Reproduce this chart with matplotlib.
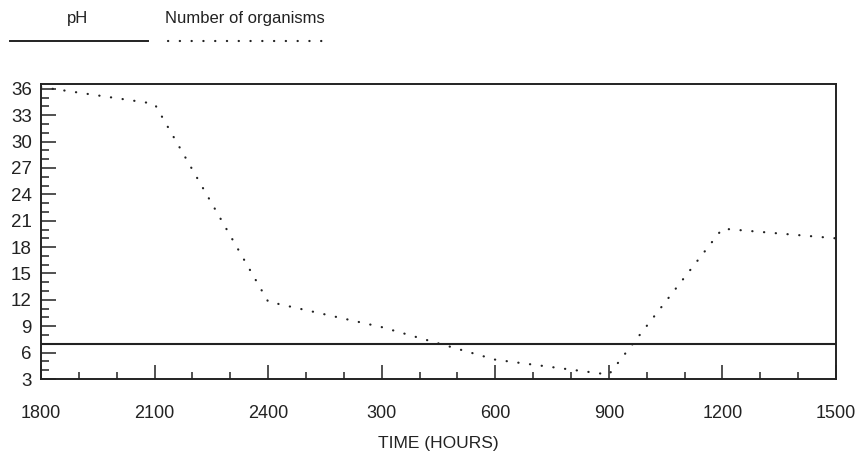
import numpy as np
import matplotlib
matplotlib.use("Agg")
import matplotlib.pyplot as plt
from matplotlib.lines import Line2D
from matplotlib.ticker import MultipleLocator

plt.rcParams['font.family'] = ['Liberation Sans', 'DejaVu Sans']

# elapsed hours from the 1800 reading, one reading every 300 h
hours = [0, 300, 600, 900, 1200, 1500, 1800, 2100]
hour_labels = ["1800", "2100", "2400", "300", "600", "900", "1200", "1500"]
ph = [7.0, 7.0, 7.0, 7.0, 7.0, 7.0, 7.0, 7.0]
organisms = [36.2, 34.3, 11.8, 8.9, 5.2, 3.5, 20.1, 19.0]

ink = "#222222"
dots = (0, (0.1, 5.2))

fig = plt.figure(figsize=(8.6, 4.53), dpi=100)
ax = fig.add_axes([41 / 860, 1 - 379 / 453, 795 / 860, 295 / 453])

ax.plot(hours, ph, color=ink, lw=1.5)
ax.plot(hours, organisms, color=ink, lw=1.6, linestyle=dots, dash_capstyle='round')

ax.set_xlim(0, 2100)
ax.set_ylim(3, 36.55)
ax.set_xticks(hours)
ax.set_xticklabels(hour_labels)
ax.xaxis.set_minor_locator(MultipleLocator(100))
ax.set_yticks(np.arange(3, 37, 3))
ax.yaxis.set_minor_locator(MultipleLocator(1))

ax.tick_params(axis='x', which='major', direction='in', length=10, width=1.1,
               pad=19, labelsize=13, colors=ink)
ax.tick_params(axis='x', which='minor', direction='in', length=5, width=1.1, colors=ink)
ax.tick_params(axis='y', which='major', direction='in', length=10.5, width=1.1,
               pad=6.5, labelsize=13.5, colors=ink)
ax.tick_params(axis='y', which='minor', direction='in', length=6, width=1.1, colors=ink)
ax.tick_params(top=False, right=False)

for s in ax.spines.values():
    s.set_linewidth(1.4)
    s.set_color(ink)

ax.set_xlabel("TIME (HOURS)", fontsize=12.5, color=ink, labelpad=10)

# legend keys above the plot
fig.text(78 / 860, 1 - 19 / 453, "pH", fontsize=12, ha='center', va='center', color=ink)
fig.text(165 / 860, 1 - 19 / 453, "Number of organisms", fontsize=12, ha='left',
         va='center', color=ink)
fig.add_artist(Line2D([10 / 860, 148 / 860], [1 - 41 / 453] * 2, color=ink, lw=1.4))
fig.add_artist(Line2D([168 / 860, 325 / 860], [1 - 40.5 / 453] * 2, color=ink, lw=1.6,
                      linestyle=dots, dash_capstyle='round'))

fig.savefig("out.png", dpi=100, facecolor='white')
